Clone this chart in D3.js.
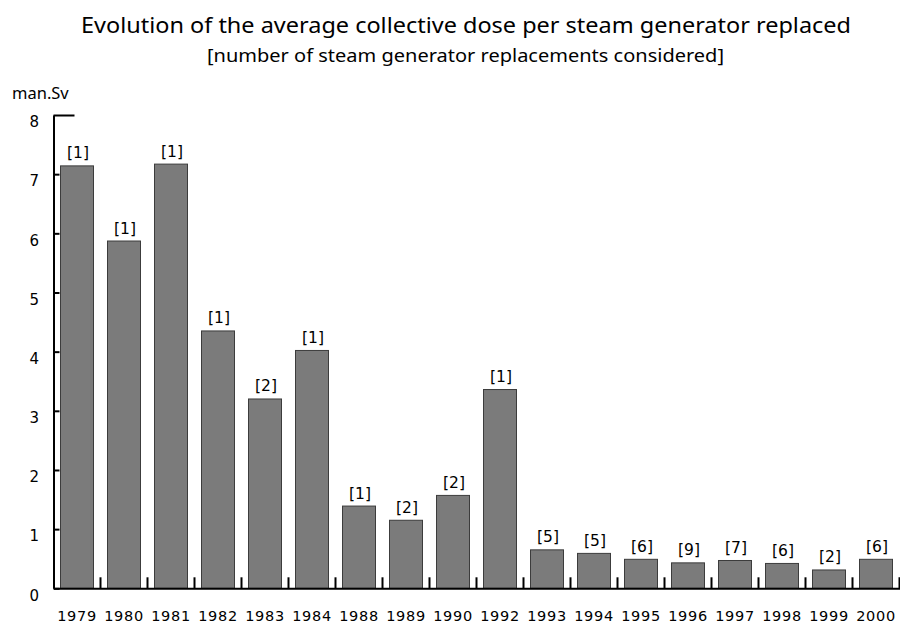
<!DOCTYPE html>
<html>
<head>
<meta charset="utf-8">
<script src="https://cdn.jsdelivr.net/npm/d3@7"></script>
<style>
  html, body { margin: 0; padding: 0; background: #fff; }
  svg { display: block; }
</style>
</head>
<body>
<svg id="chart" width="900" height="623"></svg>
<script>
const years = ["1979","1980","1981","1982","1983","1984","1988","1989","1990","1992","1993","1994","1995","1996","1997","1998","1999","2000"];
const doses = [7.14, 5.87, 7.17, 4.35, 3.20, 4.02, 1.39, 1.15, 1.57, 3.36, 0.65, 0.59, 0.49, 0.43, 0.47, 0.42, 0.31, 0.49];
const counts = [1, 1, 1, 1, 2, 1, 1, 2, 2, 1, 5, 5, 6, 9, 7, 6, 2, 6];
const yTicks = [0, 1, 2, 3, 4, 5, 6, 7, 8];
const titleText = "Evolution of the average collective dose per steam generator replaced";
const subtitleText = "[number of steam generator replacements considered]";
const unitText = "man.Sv";

const svg = d3.select("#chart");
const plotLeft = 53.5, plotRight = 899.5, plotTop = 115, plotBottom = 588.3;

const band = d3.scaleBand().domain(years).range([plotLeft, plotRight]);
const x = band.copy().paddingInner(0.298).paddingOuter(0.149);
const y = d3.scaleLinear().domain([0, 8]).range([plotBottom, plotTop]);

const sansHuman = "'Noto Sans', 'Open Sans', sans-serif";
const sansWide = "'DejaVu Sans', 'Verdana', sans-serif";

// Title
svg.append("text")
  .attr("x", 466).attr("y", 33)
  .attr("text-anchor", "middle")
  .attr("font-family", sansHuman)
  .attr("font-size", 22.5)
  .attr("textLength", 770).attr("lengthAdjust", "spacingAndGlyphs")
  .attr("fill", "#000")
  .text(titleText);

svg.append("text")
  .attr("x", 465.5).attr("y", 62)
  .attr("text-anchor", "middle")
  .attr("font-family", sansHuman)
  .attr("font-size", 18.5)
  .attr("textLength", 517).attr("lengthAdjust", "spacingAndGlyphs")
  .attr("fill", "#000")
  .text(subtitleText);

svg.append("text")
  .attr("x", 12).attr("y", 99)
  .attr("font-family", sansHuman)
  .attr("font-size", 16.5)
  .attr("fill", "#000")
  .text(unitText);

// Bars
svg.append("g").selectAll("rect")
  .data(years)
  .join("rect")
  .attr("x", d => x(d))
  .attr("y", (d, i) => y(doses[i]))
  .attr("width", x.bandwidth())
  .attr("height", (d, i) => y(0) - y(doses[i]))
  .attr("fill", "#7b7b7b")
  .attr("stroke", "#3c3c3c")
  .attr("stroke-width", 1);

// Count labels
svg.append("g").selectAll("text")
  .data(years)
  .join("text")
  .attr("x", d => x(d) + x.bandwidth() / 2 + 1)
  .attr("y", (d, i) => y(doses[i]) - 7.5)
  .attr("text-anchor", "middle")
  .attr("font-family", sansWide)
  .attr("font-size", 15.5)
  .attr("fill", "#000")
  .text((d, i) => "[" + counts[i] + "]");

// Y axis
const yAxis = svg.append("g")
  .attr("transform", `translate(${plotLeft},0)`)
  .call(d3.axisLeft(y).tickValues(yTicks).tickSize(-6).tickSizeOuter(0).tickPadding(14.5).tickFormat(d3.format("d")));
yAxis.select(".domain").attr("stroke", "#000").attr("stroke-width", 2);
yAxis.selectAll(".tick line").attr("stroke", "#000").attr("stroke-width", 2)
  .filter(d => d === 8).attr("x2", 21);
yAxis.selectAll(".tick text")
  .attr("font-family", sansWide)
  .attr("font-size", 15)
  .attr("fill", "#000")
  .attr("y", 7);

// X axis baseline and labels
const xAxis = svg.append("g")
  .attr("transform", `translate(0,${plotBottom})`)
  .call(d3.axisBottom(band).tickSize(0).tickPadding(22.5));
xAxis.select(".domain").attr("stroke", "#000").attr("stroke-width", 2);
xAxis.selectAll(".tick text")
  .attr("font-family", sansWide)
  .attr("font-size", 14.5)
  .attr("letter-spacing", 0.7)
  .attr("fill", "#000");

// Category separator ticks
svg.append("g").selectAll("line")
  .data(years)
  .join("line")
  .attr("x1", d => band(d) + band.step())
  .attr("x2", d => band(d) + band.step())
  .attr("y1", plotBottom)
  .attr("y2", plotBottom - 11)
  .attr("stroke", "#000")
  .attr("stroke-width", 2);
</script>
</body>
</html>
